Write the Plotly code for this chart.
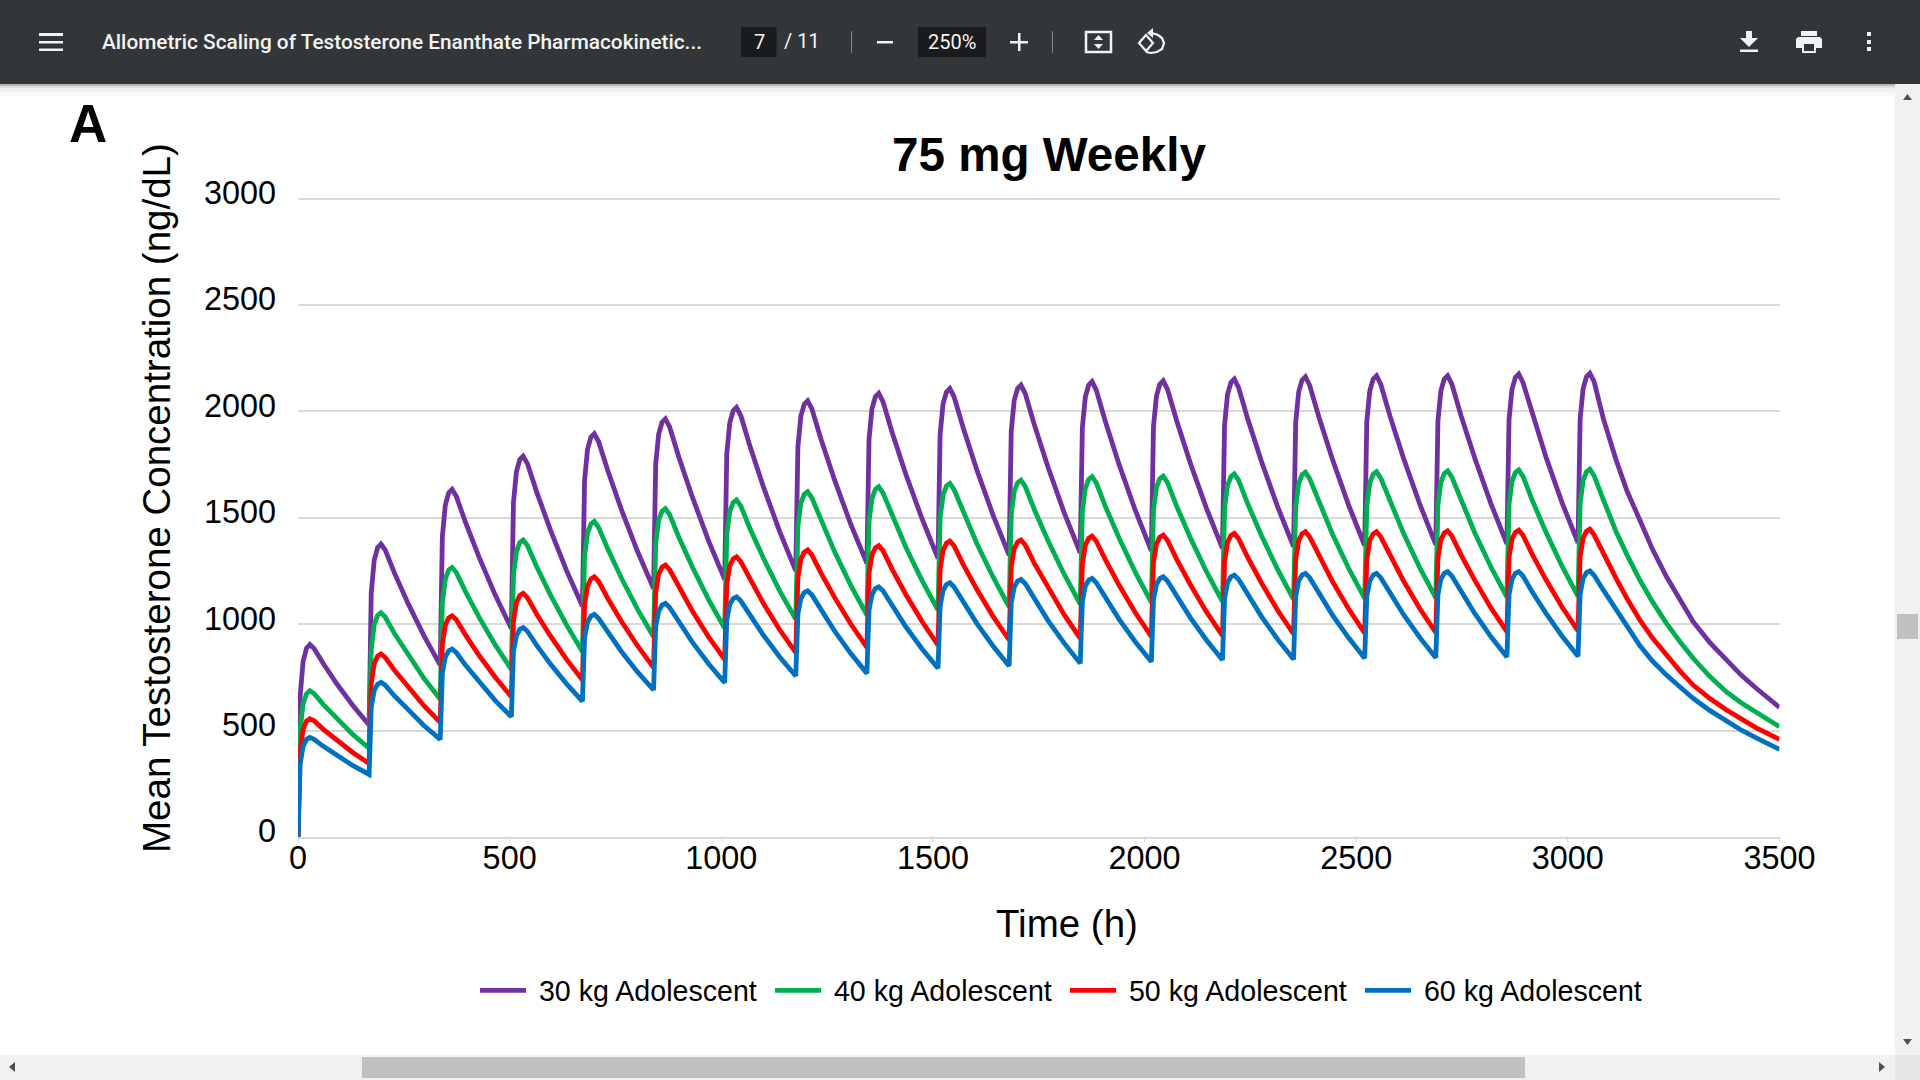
import plotly.graph_objects as go

# sampled time points (h), one row per weekly dose, then the washout tail
TIME_H = [
    0, 5, 12, 20, 28, 38, 60, 92, 130,
    168, 173, 180, 188, 196, 206, 228, 260, 298,
    336, 341, 348, 356, 364, 374, 396, 428, 466,
    504, 509, 516, 524, 532, 542, 564, 596, 634,
    672, 677, 684, 692, 700, 710, 732, 764, 802,
    840, 845, 852, 860, 868, 878, 900, 932, 970,
    1008, 1013, 1020, 1028, 1036, 1046, 1068, 1100, 1138,
    1176, 1181, 1188, 1196, 1204, 1214, 1236, 1268, 1306,
    1344, 1349, 1356, 1364, 1372, 1382, 1404, 1436, 1474,
    1512, 1517, 1524, 1532, 1540, 1550, 1572, 1604, 1642,
    1680, 1685, 1692, 1700, 1708, 1718, 1740, 1772, 1810,
    1848, 1853, 1860, 1868, 1876, 1886, 1908, 1940, 1978,
    2016, 2021, 2028, 2036, 2044, 2054, 2076, 2108, 2146,
    2184, 2189, 2196, 2204, 2212, 2222, 2244, 2276, 2314,
    2352, 2357, 2364, 2372, 2380, 2390, 2412, 2444, 2482,
    2520, 2525, 2532, 2540, 2548, 2558, 2580, 2612, 2650,
    2688, 2693, 2700, 2708, 2716, 2726, 2748, 2780, 2818,
    2856, 2861, 2868, 2876, 2884, 2894, 2916, 2948, 2986,
    3024, 3029, 3036, 3044, 3052,
    3062, 3084, 3114, 3140, 3170, 3200, 3233, 3265, 3296, 3335, 3374, 3410, 3445, 3475, 3500,
]

CONC_30KG = [
    0, 661, 824, 887, 905, 886, 814, 719, 617,
    526, 1147, 1300, 1360, 1377, 1349, 1240, 1098, 944,
    808, 1411, 1560, 1617, 1634, 1601, 1477, 1314, 1137,
    980, 1571, 1717, 1774, 1790, 1755, 1621, 1445, 1254,
    1085, 1676, 1822, 1879, 1895, 1859, 1721, 1539, 1343,
    1168, 1750, 1893, 1949, 1965, 1927, 1784, 1596, 1392,
    1211, 1801, 1946, 2003, 2019, 1981, 1835, 1643, 1435,
    1251, 1834, 1978, 2034, 2050, 2012, 1867, 1676, 1469,
    1286, 1869, 2013, 2069, 2085, 2046, 1899, 1705, 1497,
    1310, 1893, 2036, 2092, 2108, 2069, 1920, 1724, 1513,
    1325, 1908, 2052, 2108, 2124, 2085, 1935, 1738, 1525,
    1336, 1923, 2068, 2124, 2140, 2100, 1949, 1750, 1536,
    1345, 1928, 2072, 2128, 2144, 2105, 1955, 1758, 1546,
    1357, 1937, 2080, 2136, 2152, 2113, 1963, 1766, 1554,
    1365, 1948, 2091, 2147, 2163, 2123, 1973, 1774, 1560,
    1370, 1953, 2096, 2152, 2168, 2128, 1977, 1779, 1565,
    1374, 1954, 2097, 2152, 2168, 2128, 1978, 1781, 1568,
    1378, 1961, 2104, 2160, 2176, 2136, 1986, 1787, 1573,
    1383, 1964, 2107, 2163, 2179,
    2140, 1965, 1772, 1625, 1490, 1352, 1223, 1110, 1012, 915, 832, 760, 699, 648, 609,
]

CONC_40KG = [
    0, 502, 625, 673, 687, 674, 622, 555, 481,
    417, 882, 997, 1041, 1054, 1034, 956, 855, 745,
    647, 1100, 1211, 1255, 1267, 1243, 1152, 1032, 903,
    788, 1232, 1341, 1384, 1396, 1370, 1270, 1139, 998,
    871, 1318, 1428, 1471, 1483, 1456, 1353, 1217, 1071,
    941, 1380, 1489, 1531, 1543, 1515, 1408, 1268, 1116,
    981, 1421, 1530, 1572, 1584, 1556, 1449, 1309, 1157,
    1023, 1461, 1569, 1611, 1623, 1594, 1484, 1339, 1183,
    1043, 1483, 1592, 1634, 1646, 1617, 1507, 1362, 1206,
    1067, 1501, 1608, 1650, 1662, 1633, 1523, 1378, 1222,
    1082, 1516, 1623, 1665, 1677, 1648, 1537, 1392, 1235,
    1095, 1532, 1639, 1681, 1693, 1664, 1551, 1404, 1245,
    1103, 1536, 1643, 1684, 1696, 1667, 1554, 1407, 1248,
    1106, 1544, 1652, 1694, 1706, 1677, 1565, 1417, 1259,
    1117, 1553, 1660, 1702, 1714, 1684, 1572, 1423, 1263,
    1121, 1556, 1663, 1705, 1717, 1687, 1575, 1426, 1266,
    1124, 1560, 1667, 1709, 1721, 1691, 1579, 1430, 1270,
    1128, 1564, 1671, 1713, 1725, 1695, 1582, 1434, 1274,
    1131, 1568, 1675, 1717, 1729,
    1698, 1585, 1435, 1325, 1208, 1105, 1004, 918, 840, 755, 683, 630, 585, 548, 518,
]

CONC_50KG = [
    0, 406, 506, 545, 556, 546, 506, 453, 396,
    346, 721, 814, 850, 860, 844, 783, 703, 616,
    539, 905, 995, 1030, 1040, 1021, 949, 853, 751,
    659, 1014, 1101, 1135, 1145, 1125, 1047, 946, 836,
    738, 1092, 1179, 1213, 1223, 1202, 1121, 1014, 899,
    796, 1148, 1235, 1268, 1278, 1256, 1172, 1061, 941,
    835, 1187, 1274, 1307, 1317, 1294, 1209, 1096, 974,
    866, 1219, 1306, 1339, 1349, 1326, 1239, 1125, 1001,
    891, 1240, 1326, 1359, 1369, 1346, 1257, 1140, 1014,
    902, 1259, 1347, 1381, 1391, 1368, 1279, 1163, 1037,
    926, 1269, 1354, 1387, 1396, 1373, 1285, 1170, 1045,
    934, 1284, 1371, 1404, 1414, 1390, 1301, 1183, 1055,
    942, 1290, 1376, 1409, 1419, 1395, 1305, 1187, 1059,
    946, 1297, 1384, 1417, 1427, 1403, 1313, 1195, 1067,
    954, 1305, 1392, 1425, 1435, 1411, 1321, 1201, 1073,
    958, 1306, 1392, 1425, 1435, 1411, 1321, 1203, 1074,
    961, 1310, 1396, 1429, 1439, 1415, 1325, 1207, 1078,
    965, 1313, 1399, 1432, 1442, 1418, 1328, 1210, 1082,
    969, 1318, 1404, 1437, 1447,
    1420, 1330, 1216, 1120, 1020, 935, 855, 780, 714, 652, 598, 552, 513, 483, 459,
]

CONC_60KG = [
    0, 342, 426, 459, 468, 459, 426, 383, 335,
    294, 610, 688, 718, 727, 714, 663, 596, 523,
    459, 769, 845, 875, 883, 867, 807, 727, 641,
    565, 871, 946, 976, 984, 967, 901, 814, 721,
    638, 936, 1009, 1038, 1046, 1028, 961, 872, 776,
    691, 988, 1061, 1090, 1098, 1079, 1008, 915, 814,
    725, 1020, 1093, 1121, 1129, 1110, 1040, 947, 846,
    757, 1049, 1121, 1149, 1157, 1138, 1064, 967, 862,
    769, 1066, 1139, 1168, 1176, 1157, 1084, 988, 885,
    793, 1086, 1159, 1187, 1195, 1175, 1101, 1003, 898,
    804, 1101, 1174, 1203, 1211, 1191, 1116, 1017, 911,
    816, 1107, 1179, 1207, 1215, 1195, 1121, 1023, 918,
    824, 1115, 1187, 1215, 1223, 1203, 1129, 1031, 926,
    832, 1123, 1195, 1223, 1231, 1211, 1136, 1037, 930,
    835, 1130, 1203, 1231, 1239, 1219, 1143, 1043, 936,
    840, 1131, 1203, 1231, 1239, 1219, 1144, 1045, 938,
    843, 1138, 1211, 1239, 1247, 1227, 1151, 1051, 942,
    846, 1139, 1211, 1239, 1247, 1227, 1151, 1052, 945,
    849, 1142, 1215, 1243, 1251,
    1230, 1160, 1067, 985, 900, 827, 761, 705, 652, 595, 544, 502, 466, 437, 412,
]

# the non-breaking space widens the gap between legend line and text
SERIES_NAMES = ['\u00a030 kg Adolescent', '\u00a040 kg Adolescent', '\u00a050 kg Adolescent', '\u00a060 kg Adolescent']
SERIES_COLORS = ['#7030A0', '#00B050', '#FF0000', '#0070C0']
X_TICKS = [0, 500, 1000, 1500, 2000, 2500, 3000, 3500]
Y_TICKS = [0, 500, 1000, 1500, 2000, 2500, 3000]

W, H = 1920, 1080
FONT = 'Liberation Sans'
BAR = '#323639'


def px(x):
    return x / W


def py(y):
    return 1 - y / H


def rect(x0, y0, x1, y1, color):
    return dict(type='rect', xref='paper', yref='paper', x0=px(x0), x1=px(x1),
                y0=py(y0), y1=py(y1), fillcolor=color, line_width=0, layer='above')


def path(points, fill=None, line=None, width=2, close=True):
    d = 'M' + ' L'.join('%.5f,%.5f' % (px(a), py(b)) for a, b in points)
    if close:
        d += ' Z'
    return dict(type='path', xref='paper', yref='paper', path=d, layer='above',
                fillcolor=fill if fill else 'rgba(0,0,0,0)',
                line=dict(color=line if line else 'rgba(0,0,0,0)', width=width if line else 0))


def label(text, x, y, size, color='#000000', anchor='center', bold=False, family=FONT, angle=0, weight=None):
    return dict(text=text, xref='paper', yref='paper', x=px(x), y=py(y), showarrow=False,
                xanchor=anchor, yanchor='middle', textangle=angle,
                font=dict(family=family, size=size, color=color,
                          weight=weight if weight else ('bold' if bold else 'normal')))


fig = go.Figure()
all_series = [CONC_30KG, CONC_40KG, CONC_50KG, CONC_60KG]
for name, color, values in zip(SERIES_NAMES, SERIES_COLORS, all_series):
    fig.add_trace(go.Scatter(x=TIME_H, y=values, mode='lines', name=name, cliponaxis=False,
                             line=dict(color=color, width=4.8), hoverinfo='skip'))

# tick labels sit a little above the gridlines in the original, so they get their own axis
fig.add_trace(go.Scatter(x=[0], y=[0], yaxis='y2', mode='lines', showlegend=False, hoverinfo='skip'))

# viewer chrome around the page
shapes = [
    rect(0, 84, W, 86, '#b4b5b6'),
    rect(0, 86, W, 88, '#dddddd'),
    rect(0, 88, W, 92, '#f1f1f1'),
    rect(0, 92, W, 96, '#f8f8f8'),
    rect(0, 0, W, 84, BAR),
    rect(39, 33, 63, 36, '#f1f3f4'),
    rect(39, 41, 63, 43.5, '#f1f3f4'),
    rect(39, 48.5, 63, 51, '#f1f3f4'),
    rect(741, 27, 776.5, 57, '#191b1c'),
    rect(851, 31, 852, 53, '#80868b'),
    rect(877, 41, 893, 43.5, '#f1f3f4'),
    rect(918, 27, 986, 57, '#191b1c'),
    rect(1010, 41, 1028, 43.5, '#f1f3f4'),
    rect(1018, 33, 1020.5, 51, '#f1f3f4'),
    rect(1052, 31, 1053, 53, '#80868b'),
    # fit to page
    path([(1086, 32), (1111, 32), (1111, 52), (1086, 52)], line='#f1f3f4', width=2.5),
    path([(1094, 40), (1098.5, 35), (1103, 40)], fill='#f1f3f4'),
    path([(1094, 44), (1098.5, 49), (1103, 44)], fill='#f1f3f4'),
    # rotate
    path([(1139, 43), (1146, 35), (1153, 43), (1146, 51)], line='#f1f3f4', width=2.2),
    path([(1152, 33), (1158, 35), (1162, 38), (1164, 43), (1162, 49), (1157, 52), (1151, 53), (1146, 52)],
         line='#f1f3f4', width=2.2, close=False),
    path([(1153, 28), (1153, 38), (1147, 33)], fill='#f1f3f4'),
    # download
    path([(1746, 31), (1752, 31), (1752, 38), (1758, 38), (1749, 47), (1740, 38), (1746, 38)], fill='#f1f3f4'),
    rect(1740, 49.5, 1758, 52, '#f1f3f4'),
    # print
    rect(1801, 31, 1817, 36, '#f1f3f4'),
    path([(1798, 37), (1820, 37), (1822, 39), (1822, 48), (1816, 48), (1816, 53), (1802, 53), (1802, 48),
          (1796, 48), (1796, 39)], fill='#f1f3f4'),
    rect(1804, 44, 1814, 51, BAR),
    # more
    path([(1867, 32), (1871, 32), (1871, 36), (1867, 36)], fill='#f1f3f4'),
    path([(1867, 40), (1871, 40), (1871, 44), (1867, 44)], fill='#f1f3f4'),
    path([(1867, 47), (1871, 47), (1871, 51), (1867, 51)], fill='#f1f3f4'),
    # scrollbars
    rect(1895, 84, W, 1055, '#f1f1f1'),
    rect(1897, 614, 1918, 639, '#c1c1c1'),
    path([(1903, 100), (1912, 100), (1907.5, 94)], fill='#505050'),
    path([(1903, 1039), (1912, 1039), (1907.5, 1045)], fill='#505050'),
    rect(0, 1055, W, H, '#f1f1f1'),
    rect(1895, 1055, W, H, '#e6e6e6'),
    rect(362, 1057, 1525, 1078, '#c1c1c1'),
    path([(15, 1062), (15, 1072), (9, 1067)], fill='#505050'),
    path([(1879, 1062), (1879, 1072), (1885, 1067)], fill='#505050'),
]

annotations = [
    label('Allometric Scaling of Testosterone Enanthate Pharmacokinetic...', 100, 42, 20.8, '#f1f3f4',
          anchor='left', family='Roboto', weight=500),
    label('7', 759, 42, 20, '#f1f3f4', family='Roboto'),
    label('/ 11', 782, 41, 20, '#f1f3f4', anchor='left', family='Roboto'),
    label('250%', 952, 42, 20, '#f1f3f4', family='Roboto'),
    label('A', 87.5, 123, 53, bold=True),
    label('Mean Testosterone Concentration (ng/dL)', 156, 498, 38.5, angle=-90),
    label('Time (h)', 1066.5, 923, 38.5),
]

fig.update_layout(
    width=W,
    height=H,
    margin=dict(l=0, r=0, t=0, b=0, autoexpand=False),
    paper_bgcolor='white',
    plot_bgcolor='rgba(0,0,0,0)',
    title=dict(text='<b>75 mg Weekly</b>', x=px(1049), y=py(154), xanchor='center', yanchor='middle',
               font=dict(family=FONT, size=47.6, color='#000000')),
    xaxis=dict(domain=[px(298), px(1779.5)], range=[0, 3500], tickvals=X_TICKS, showgrid=False,
               zeroline=False, showline=True, linecolor='#d9d9d9', linewidth=2, ticks='outside',
               ticklen=3, tickwidth=1, tickcolor='#d9d9d9', ticklabelstandoff=-12,
               tickfont=dict(family=FONT, size=32.4, color='#000000')),
    # range runs slightly past 3000, plotly drops a gridline sitting right on the edge
    yaxis=dict(domain=[py(837), py(197)], range=[0, 3008], tickvals=Y_TICKS, showticklabels=False,
               showgrid=True, gridcolor='#d9d9d9', gridwidth=2, zeroline=False),
    yaxis2=dict(domain=[py(831), py(192.7)], range=[0, 3000], anchor='x', tickvals=Y_TICKS,
                showgrid=False, zeroline=False, showline=False, ticks='', ticklabelstandoff=21,
                tickfont=dict(family=FONT, size=32.4, color='#000000')),
    legend=dict(orientation='h', x=px(475), y=py(990.7), xanchor='left', yanchor='middle',
                itemwidth=46, entrywidth=234, entrywidthmode='pixels', bgcolor='rgba(0,0,0,0)',
                font=dict(family=FONT, size=28.6, color='#000000')),
    shapes=shapes,
    annotations=annotations,
    hovermode=False,
)

fig.write_html('out.html', config={'displayModeBar': False},
               post_script="document.body.style.margin='0';document.body.style.overflow='hidden';")
